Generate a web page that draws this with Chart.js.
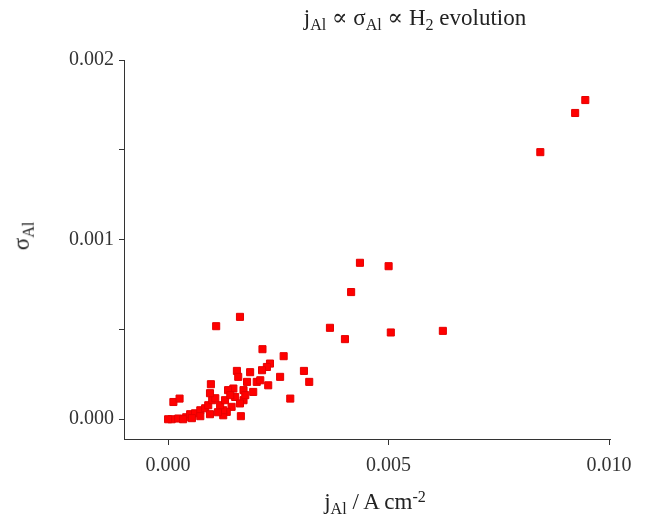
<!DOCTYPE html>
<html>
<head>
<meta charset="utf-8">
<script src="https://cdn.jsdelivr.net/npm/chart.js@4"></script>
<style>
  html,body{margin:0;padding:0;background:#fff;}
  #wrap{position:relative;width:665px;height:521px;overflow:hidden;}
  #c{position:absolute;left:0;top:0;}
  .lbl{position:absolute;font-family:"Liberation Serif","DejaVu Serif",serif;color:#222;white-space:nowrap;transform:translate(-50%,-50%);}
  .lbl sub{font-size:70%;vertical-align:-0.28em;}
  .lbl sup{font-size:70%;vertical-align:0.45em;}
</style>
</head>
<body>
<div id="wrap">
  <canvas id="c" width="665" height="521"></canvas>
  <div class="lbl" id="title" style="left:415px;top:19px;font-size:23px;">j<sub>Al</sub> ∝ σ<sub>Al</sub> ∝ H<sub>2</sub> evolution</div>
  <div class="lbl" id="ytitle" style="left:23px;top:236px;font-size:23px;transform:translate(-50%,-50%) rotate(-90deg);">σ<sub>Al</sub></div>
  <div class="lbl" id="xtitle" style="left:375px;top:503px;font-size:23px;">j<sub>Al</sub> / A cm<sup>-2</sup></div>
</div>
<script>
// current density j_Al (A cm^-2)
const jAl = [
  0.00946, 0.00923, 0.00844,
  0.00435, 0.00500, 0.00415, 0.00367, 0.00401, 0.00505, 0.00623,
  0.00308, 0.00320,
  0.00109, 0.00163, 0.00214, 0.00262, 0.00231, 0.00224, 0.00213, 0.00156,
  0.00254, 0.00159, 0.00179, 0.00201, 0.00209, 0.00227, 0.00148, 0.00193,
  0.00171, 0.00277, 0.00152, 0.00171, 0.00163, 0.00144, 0.00133, 0.00125,
  0.00165, 0.00097, 0.00012, 0.00026, 0.00008, 0.00023, 0.00041, 0.00050,
  0.00061, 0.00073, 0.00084, 0.00091, 0.00100, 0.00107, 0.00095, 0.00125,
  0.00136, 0.00054, 0.00073, 0.00095, 0.00113, 0.00118, 0.00000, 0.00034,
  0.00129, 0.00141, 0.00186, 0.00175
];
// sigma_Al
const sigmaAl = [
  0.001777, 0.001705, 0.001487,
  0.000871, 0.000852, 0.000708, 0.000509, 0.000446, 0.000483, 0.000492,
  0.000269, 0.000208,
  0.000518, 0.000570, 0.000390, 0.000351, 0.000310, 0.000291, 0.000273, 0.000269,
  0.000236, 0.000236, 0.000208, 0.000208, 0.000217, 0.000189, 0.000171, 0.000152,
  0.000162, 0.000115, 0.000124, 0.000106, 0.000088, 0.000069, 0.000041, 0.000022,
  0.000017, 0.000195, 0.000096, 0.000115, 0.000000, 0.000004, 0.000011, 0.000028,
  0.000033, 0.000050, 0.000061, 0.000078, 0.000106, 0.000117, 0.000145, 0.000050,
  0.000162, 0.000006, 0.000017, 0.000028, 0.000039, 0.000078, 0.000000, 0.000000,
  0.000106, 0.000134, 0.000262, 0.000134
];
const xTicks = [0, 0.005, 0.010];
const yTicks = [0, 0.0005, 0.001, 0.0015, 0.002];
const yLabeled = [0, 0.001, 0.002];

const points = jAl.map((x, i) => ({x: x, y: sigmaAl[i]}));
const tickFont = {family: '"Liberation Serif","DejaVu Serif",serif', size: 20};

new Chart(document.getElementById('c'), {
  type: 'scatter',
  data: {
    datasets: [{
      data: points,
      pointStyle: 'rect',
      pointRadius: 5,
      pointHoverRadius: 5,
      backgroundColor: '#ff0000',
      borderColor: '#e40000',
      borderWidth: 1
    }]
  },
  options: {
    responsive: false,
    animation: false,
    events: [],
    layout: {padding: {left: 0, right: 55, top: 60, bottom: 0}},
    plugins: {legend: {display: false}, tooltip: {enabled: false}, title: {display: false}},
    scales: {
      x: {
        type: 'linear',
        min: -0.001,
        max: 0.01002,
        afterBuildTicks: s => { s.ticks = xTicks.map(v => ({value: v})); },
        afterFit: s => { s.height = 82; },
        grid: {drawOnChartArea: false, drawTicks: true, tickLength: 6, color: '#333', lineWidth: 1},
        border: {display: true, color: '#333', width: 1},
        ticks: {font: tickFont, color: '#333', padding: 9, maxRotation: 0,
                callback: v => Number(v).toFixed(3)}
      },
      y: {
        type: 'linear',
        min: -0.00011,
        max: 0.002,
        afterBuildTicks: s => { s.ticks = yTicks.map(v => ({value: v})); },
        afterFit: s => { s.width = 124; },
        grid: {drawOnChartArea: false, drawTicks: true, tickLength: 5, color: '#333', lineWidth: 1},
        border: {display: true, color: '#333', width: 1},
        ticks: {font: tickFont, color: '#333', padding: 5,
                callback: v => yLabeled.some(t => Math.abs(t - v) < 1e-9) ? Number(v).toFixed(3) : ''}
      }
    }
  }
});
</script>
</body>
</html>
